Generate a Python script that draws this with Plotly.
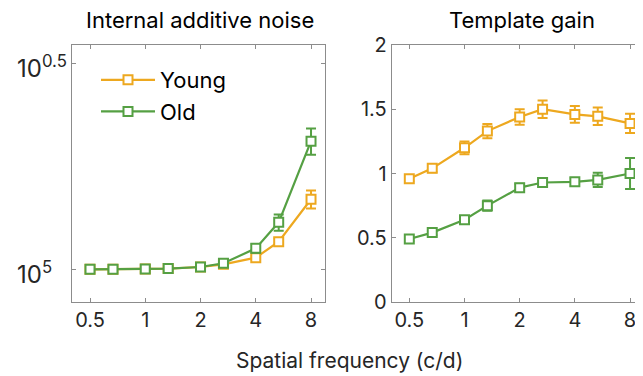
import plotly.graph_objects as go
import numpy as np

freq = [0.5, 0.667, 1, 1.333, 2, 2.667, 4, 5.333, 8]

# Internal additive noise (log axis)
noise_young = [100000, 100000, 100200, 100400, 101300, 102800, 106700, 116700, 147900]
noise_young_err = [400, 400, 400, 400, 500, 700, 1200, 2000, 7500]
noise_old = [100000, 100000, 100200, 100400, 101300, 103400, 112400, 130000, 204600]
noise_old_err = [400, 400, 400, 400, 500, 800, 2700, 5900, 15000]

# Template gain
gain_young = [0.96, 1.04, 1.20, 1.33, 1.44, 1.50, 1.46, 1.445, 1.39]
gain_young_err = [0.02, 0.03, 0.05, 0.055, 0.06, 0.068, 0.065, 0.068, 0.075]
gain_old = [0.49, 0.54, 0.64, 0.75, 0.89, 0.93, 0.935, 0.95, 1.00]
gain_old_err = [0.015, 0.02, 0.03, 0.04, 0.03, 0.03, 0.03, 0.055, 0.12]

xtick_vals = [0.5, 1, 2, 4, 8]
xtick_text = ["0.5", "1", "2", "4", "8"]
noise_tick_vals = [100000, 316228]
noise_tick_text = ["10<sup>5</sup>", "10<sup>0.5</sup>"]
gain_tick_vals = [0, 0.5, 1, 1.5, 2]
gain_tick_text = ["0", "0.5", "1", "1.5", "2"]

ORANGE = "#EDA81F"
GREEN = "#55A043"
AX = "#8C8C8C"
TXT = "#262626"
FONT = "Inter, Liberation Sans, Arial, sans-serif"
FS = 20
W, H = 643, 376
OFF = 8  # page body margin

fig = go.Figure()

def add(x, y, e, color, name, xa, ya, show):
    fig.add_trace(go.Scatter(
        x=x, y=y, name=name, mode="lines+markers",
        xaxis=xa, yaxis=ya, showlegend=show,
        line=dict(color=color, width=2.2),
        marker=dict(symbol="square", size=9, color="white",
                    line=dict(color=color, width=2)),
        error_y=dict(type="data", array=e, visible=True, color=color,
                     thickness=2, width=5),
    ))

add(freq, noise_young, noise_young_err, ORANGE, "Young", "x", "y", True)
add(freq, noise_old, noise_old_err, GREEN, "Old", "x", "y", True)
add(freq, gain_young, gain_young_err, ORANGE, "Young", "x2", "y2", False)
add(freq, gain_old, gain_old_err, GREEN, "Old", "x2", "y2", False)

def px_x(p):
    return (p - OFF) / W

def px_y(p):
    return 1 - (p - OFF) / H

axis_common = dict(showgrid=False, zeroline=False, showline=True, linecolor=AX,
                   linewidth=1, ticks="inside", ticklen=4, tickcolor=AX,
                   automargin=False,
                   tickfont=dict(family=FONT, size=FS, color=TXT))

# left-aligned exponent tick labels of the log axis
tick_annots = [
    dict(text=t, x=px_x(15), y=np.log10(v), xref="paper", yref="y",
         xanchor="left", yanchor="middle", yshift=-4, showarrow=False,
         font=dict(family=FONT, size=24, color=TXT))
    for v, t in zip(noise_tick_vals, noise_tick_text)
]

fig.update_layout(
    template="none",
    width=W, height=H,
    margin=dict(l=0, r=0, t=0, b=0, pad=0),
    paper_bgcolor="white", plot_bgcolor="white",
    font=dict(family=FONT, size=FS, color=TXT),
    xaxis=dict(type="log", domain=[px_x(72), px_x(325)],
               range=[np.log10(2 ** -1.326), np.log10(2 ** 3.253)],
               tickvals=xtick_vals, ticktext=xtick_text, mirror="allticks",
               anchor="y", **axis_common),
    yaxis=dict(type="log", domain=[px_y(302), px_y(45)],
               range=[4.9206, 5.5444],
               tickvals=noise_tick_vals, ticktext=noise_tick_text,
               showticklabels=False,
               mirror="allticks", anchor="x", **axis_common),
    xaxis2=dict(type="log", domain=[px_x(391.7), px_x(644)],
                range=[np.log10(2 ** -1.319), np.log10(2 ** 3.253)],
                tickvals=xtick_vals, ticktext=xtick_text, mirror="allticks",
                anchor="y2", **axis_common),
    yaxis2=dict(domain=[px_y(302), px_y(45)], range=[0, 2],
                tickvals=gain_tick_vals, ticktext=gain_tick_text,
                mirror=False, anchor="x2", **axis_common),
    legend=dict(x=px_x(96), y=px_y(59), xanchor="left", yanchor="top",
                bgcolor="rgba(0,0,0,0)", borderwidth=0,
                font=dict(family=FONT, size=22, color="black"),
                tracegroupgap=0, itemwidth=54),
    annotations=tick_annots + [
        dict(text="Internal additive noise", x=px_x(200), y=px_y(20),
             xref="paper", yref="paper", showarrow=False,
             xanchor="center", yanchor="middle",
             font=dict(family=FONT, size=22, color="black")),
        dict(text="Template gain", x=px_x(522), y=px_y(20),
             xref="paper", yref="paper", showarrow=False,
             xanchor="center", yanchor="middle",
             font=dict(family=FONT, size=22, color="black")),
        dict(text="Spatial frequency (c/d)", x=px_x(349), y=px_y(360),
             xref="paper", yref="paper", showarrow=False,
             xanchor="center", yanchor="middle",
             font=dict(family=FONT, size=21, color=TXT)),
    ],
)

fig.write_html("out.html")
